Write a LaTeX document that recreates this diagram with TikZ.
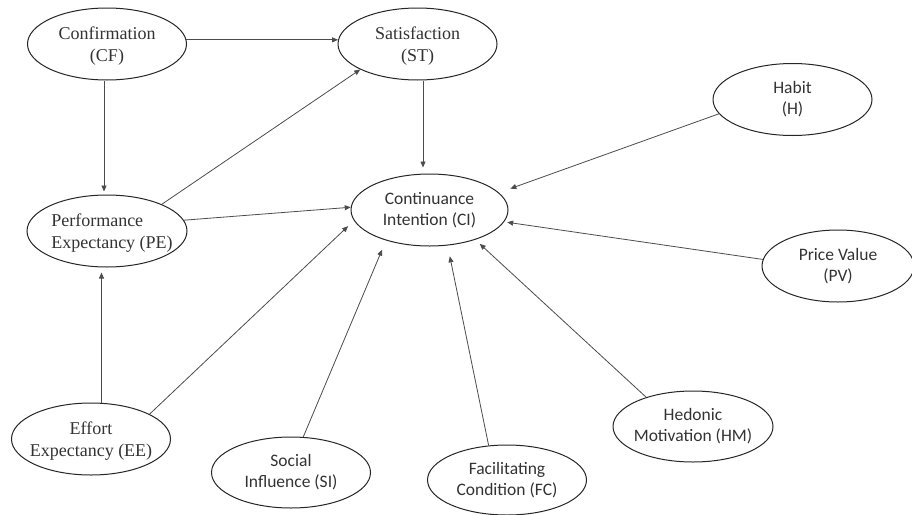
\documentclass[tikz,border=0pt]{standalone}
\usepackage{fontspec}
\setmainfont{Liberation Serif}
\newfontfamily\sansf{Carlito}
\usetikzlibrary{shapes.geometric,arrows.meta}
\tikzset{
  ell/.style={draw=black!85, ellipse, inner sep=0pt, minimum width=159pt, minimum height=72pt, line width=1pt},
  sertxt/.style={font=\fontsize{18}{22}\selectfont, align=center, inner sep=0pt, text=black!80, yshift=-2pt},
  santxt/.style={font=\sansf\fontsize{17.5}{21}\selectfont, align=center, inner sep=0pt, text=black!80},
  arr/.style={draw=black!70, line width=0.8pt, -{Triangle[length=6pt,width=5pt]}}
}
\begin{document}
\begin{tikzpicture}[x=1pt,y=-1pt]
\useasboundingbox (0,0) rectangle (912,514);
\fill[white] (0,0) rectangle (912,514);
% ellipses
\node[ell] (cf) at (107,44) {};
\node[ell] (st) at (417.5,44) {};
\node[ell, minimum width=160pt] (pe) at (107,231) {};
\node[ell, minimum width=157pt] (ci) at (429.5,210) {};
\node[ell] (h) at (792.5,99.5) {};
\node[ell, minimum width=152pt] (pv) at (838,266) {};
\node[ell] (ee) at (91,439) {};
\node[ell, minimum height=71pt] (si) at (291,472.5) {};
\node[ell, minimum height=70pt] (fc) at (507,480) {};
\node[ell, minimum width=160pt, minimum height=71pt] (hm) at (693,426.5) {};
% texts
\node[sertxt] (cft) at (cf) {Confirmation\\(CF)};
\node[sertxt] (stt) at (st) {Satisfaction\\(ST)};
\node[sertxt, align=left] (pet) at ([xshift=5pt]pe.center) {Performance\\Expectancy (PE)};
\node[sertxt] (eet) at (ee) {Effort\\Expectancy (EE)};
\node[santxt] (cit) at (ci) {Continuance\\Intention (CI)};
\node[santxt] (ht) at (h) {Habit\\(H)};
\node[santxt] (pvt) at (pv) {Price Value\\(PV)};
\node[santxt] (sit) at (si) {Social\\Influence (SI)};
\node[santxt] (fct) at (fc) {Facilitating\\Condition (FC)};
\node[santxt] (hmt) at (hm) {Hedonic\\Motivation (HM)};
% helper x positions for vertical connectors
\coordinate (xa) at (104,0);
\coordinate (xb) at (101.5,0);
\coordinate (xc) at (423,0);
% connectors
\draw[arr] (cf.3) -- (st.177);
\draw[arr, shorten >=3pt] (cf.south -| xa) -- (pe.north -| xa);
\draw[arr, shorten >=5pt] (ee.north -| xb) -- (pe.south -| xb);
\draw[arr] (pe.26) -- (st.204);
\draw[arr, shorten >=6pt] (st.south -| xc) -- (ci.north -| xc);
\draw[arr] (pe.8) -- (ci.178);
\draw[arr, shorten >=8pt] (ee.23) -- (ci.188);
\draw[arr, shorten >=10pt] (si.71) -- (ci.215);
\draw[arr, shorten >=11pt] (fc.118) -- (ci.297);
\draw[arr, shorten >=6pt] (hm.148) -- (ci.327);
\draw[arr, shorten >=12pt] (h.191) -- (ci.14);
\draw[arr, shorten >=3pt] (pv.175) -- (ci.351);
\end{tikzpicture}
\end{document}
